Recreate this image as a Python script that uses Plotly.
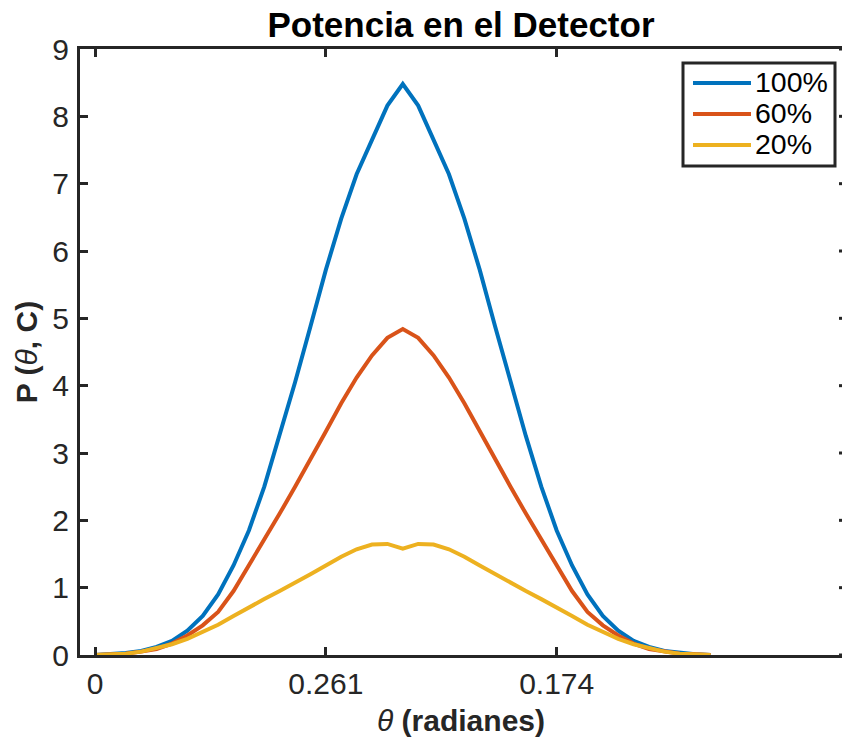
import plotly.graph_objects as go

# Sample index along the detector sweep (41 samples)
theta_idx = list(range(41))

# Detected power for each concentration level
p_100 = [0.00, 0.01, 0.03, 0.06, 0.12, 0.21, 0.36, 0.58, 0.90, 1.33,
         1.85, 2.50, 3.25, 4.05, 4.88, 5.72, 6.48, 7.14, 7.65, 8.16,
         8.48,
         8.16, 7.65, 7.14, 6.48, 5.72, 4.88, 4.05, 3.25, 2.50, 1.85,
         1.33, 0.90, 0.58, 0.36, 0.21, 0.12, 0.06, 0.03, 0.01, 0.00]
p_60 = [0.00, 0.01, 0.02, 0.05, 0.09, 0.17, 0.29, 0.44, 0.64, 0.95,
        1.33, 1.72, 2.10, 2.50, 2.90, 3.32, 3.74, 4.12, 4.45, 4.71,
        4.84,
        4.71, 4.45, 4.12, 3.74, 3.32, 2.90, 2.50, 2.10, 1.72, 1.33,
        0.95, 0.64, 0.44, 0.29, 0.17, 0.09, 0.05, 0.02, 0.01, 0.00]
p_20 = [0.00, 0.01, 0.02, 0.05, 0.10, 0.16, 0.24, 0.34, 0.45, 0.58,
        0.71, 0.83, 0.95, 1.07, 1.20, 1.33, 1.46, 1.57, 1.64, 1.65,
        1.58,
        1.65, 1.64, 1.57, 1.46, 1.33, 1.20, 1.07, 0.95, 0.83, 0.71,
        0.58, 0.45, 0.34, 0.24, 0.16, 0.10, 0.05, 0.02, 0.01, 0.00]

series_names = ["100%", "60%", "20%"]
series_values = [p_100, p_60, p_20]
series_colors = ["#0072BD", "#D95319", "#EDB120"]

x_tick_vals = [0, 15, 30]
x_tick_text = ["0", "0.261", "0.174"]
y_tick_vals = list(range(10))

FONT = "Liberation Sans, Arial, Helvetica, sans-serif"
AXIS_COLOR = "#262626"

# figure / plot-area geometry (pixels)
W, H = 842, 737
ML, MR, MT, MB = 80, 0, 49, 82
PW, PH = W - ML - MR, H - MT - MB


def px_x(p):
    return (p - ML) / PW


def px_y(p):
    return (H - MB - p) / PH


fig = go.Figure()
for name, vals, col in zip(series_names, series_values, series_colors):
    fig.add_trace(go.Scatter(
        x=theta_idx, y=vals, mode="lines", name=name,
        line=dict(color=col, width=4), showlegend=False,
    ))

axis_common = dict(
    showgrid=False, zeroline=False, showline=True, linewidth=3,
    linecolor=AXIS_COLOR, ticks="inside", ticklen=8, tickwidth=3,
    tickcolor=AXIS_COLOR,
    tickfont=dict(family=FONT, size=30, color=AXIS_COLOR),
)

fig.update_layout(
    width=W, height=H,
    margin=dict(l=ML, r=MR, t=MT, b=MB, pad=0),
    paper_bgcolor="white", plot_bgcolor="white",
    title=dict(
        text="<b>Potencia en el Detector</b>",
        font=dict(family=FONT, size=35, color="black"),
        x=0.5, xref="paper", xanchor="center",
        y=1 - 25 / H, yref="container", yanchor="middle",
    ),
    xaxis=dict(
        range=[-0.975, 48.54], tickvals=x_tick_vals, ticktext=x_tick_text,
        mirror="ticks", ticklabelstandoff=0,
        title=dict(text="<i>θ</i> <b>(radianes)</b>",
                   font=dict(family=FONT, size=30, color=AXIS_COLOR),
                   standoff=12),
        **axis_common,
    ),
    yaxis=dict(
        range=[0, 9], tickvals=y_tick_vals, mirror=False,
        ticklabelstandoff=2,
        title=dict(text="<b>P (</b><i>θ</i><b>, C)</b>",
                   font=dict(family=FONT, size=30, color=AXIS_COLOR),
                   standoff=6),
        **axis_common,
    ),
)

# tick stubs along the right edge of the axes box
for v in y_tick_vals:
    fig.add_shape(type="line", xref="paper", yref="y",
                  x0=1 - 3 / PW, x1=1, y0=v, y1=v,
                  line=dict(color=AXIS_COLOR, width=3))

# legend box
LX0, LX1, LY0, LY1 = 683, 835, 63, 166
fig.add_shape(type="rect", xref="paper", yref="paper",
              x0=px_x(LX0), x1=px_x(LX1), y0=px_y(LY1), y1=px_y(LY0),
              line=dict(color=AXIS_COLOR, width=3), fillcolor="white",
              layer="above")
row_y = [83, 114, 145]
for name, col, ry in zip(series_names, series_colors, row_y):
    fig.add_shape(type="line", xref="paper", yref="paper",
                  x0=px_x(693), x1=px_x(751), y0=px_y(ry), y1=px_y(ry),
                  line=dict(color=col, width=4), layer="above")
    fig.add_annotation(xref="paper", yref="paper", x=px_x(753), y=px_y(ry - 1),
                       text=name, showarrow=False, xanchor="left",
                       yanchor="middle",
                       font=dict(family=FONT, size=28.5, color="black"))

fig.write_html("out.html")
